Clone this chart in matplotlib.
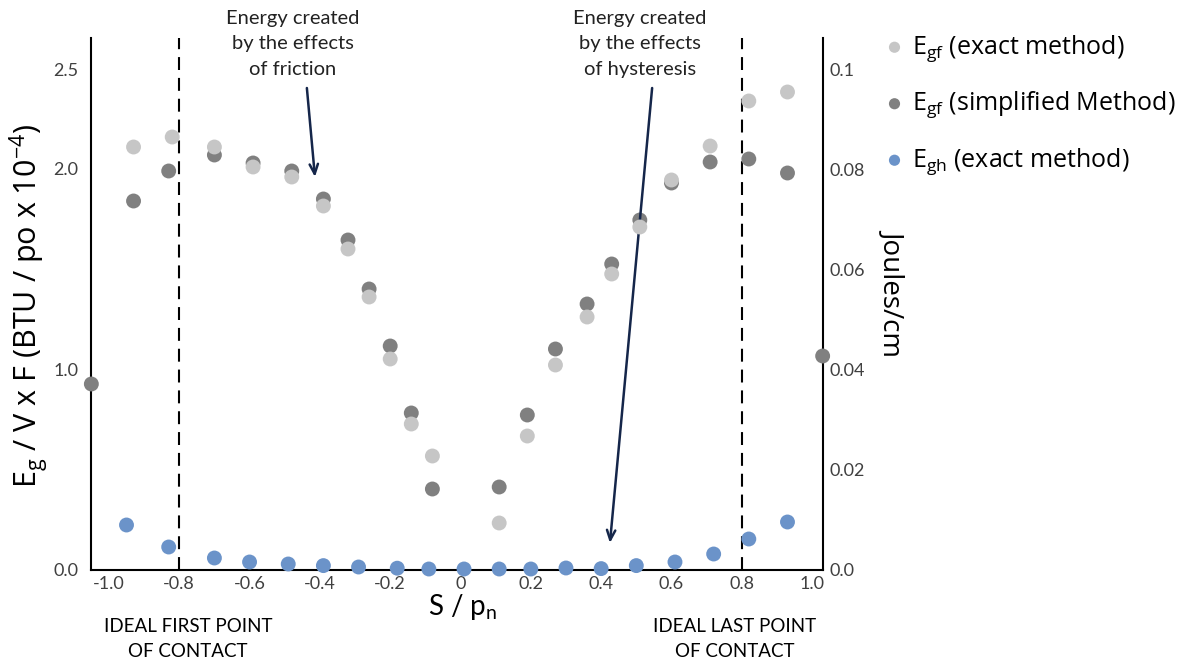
import matplotlib
matplotlib.use("Agg")
import matplotlib.pyplot as plt

plt.rcParams['font.family'] = ['Lato', 'DejaVu Sans']
plt.rcParams['mathtext.default'] = 'regular'

# ---------------- data ----------------
x_egf_exact = [-0.93, -0.82, -0.70, -0.59, -0.48, -0.39, -0.32, -0.26, -0.20, -0.14, -0.08,
               0.11, 0.19, 0.27, 0.36, 0.43, 0.51, 0.60, 0.71, 0.82, 0.93]
egf_exact = [2.11, 2.16, 2.11, 2.01, 1.96, 1.815, 1.60, 1.36, 1.05, 0.725, 0.565,
             0.23, 0.665, 1.02, 1.26, 1.475, 1.71, 1.945, 2.115, 2.34, 2.385]

x_egf_simpl = [-1.05, -0.93, -0.83, -0.70, -0.59, -0.48, -0.39, -0.32, -0.26, -0.20, -0.14, -0.08,
               0.11, 0.19, 0.27, 0.36, 0.43, 0.51, 0.60, 0.71, 0.82, 0.93, 1.03]
egf_simpl = [0.925, 1.84, 1.99, 2.07, 2.03, 1.99, 1.85, 1.645, 1.40, 1.115, 0.78, 0.40,
             0.41, 0.77, 1.10, 1.325, 1.525, 1.745, 1.93, 2.035, 2.05, 1.98, 1.065]

x_egh_exact = [-0.95, -0.83, -0.70, -0.60, -0.49, -0.39, -0.29, -0.18, -0.09, 0.01,
               0.11, 0.20, 0.30, 0.40, 0.50, 0.61, 0.72, 0.82, 0.93]
egh_exact = [0.22, 0.11, 0.055, 0.035, 0.025, 0.017, 0.01, 0.004, 0.0, 0.0,
             0.0, 0.0, 0.005, 0.002, 0.017, 0.035, 0.075, 0.15, 0.235]

xticks = [-1.0, -0.8, -0.6, -0.4, -0.2, 0.0, 0.2, 0.4, 0.6, 0.8, 1.0]
xtick_labels = ['-1.0', '-0.8', '-0.6', '-0.4', '-0.2', '0', '0.2', '0.4', '0.6', '0.8', '1.0']
yticks_left = [0.0, 1.0, 2.0, 2.5]
ytick_left_labels = ['0.0', '1.0', '2.0', '2.5']
yticks_right = [0.0, 0.02, 0.04, 0.06, 0.08, 0.1]
ytick_right_labels = ['0.0', '0.02', '0.04', '0.06', '0.08', '0.1']
contact_points = [-0.8, 0.8]

labels = [r'E$_{gf}$ (exact method)', r'E$_{gf}$ (simplified Method)', r'E$_{gh}$ (exact method)']
colors = ['#c6c6c6', '#808080', '#6b93c9']

# ---------------- figure ----------------
W, H = 1200, 663
fig = plt.figure(figsize=(W / 100, H / 100), dpi=100)
ax = fig.add_axes([91 / W, 93 / H, 732 / W, 532 / H])
ax2 = ax.twinx()
ax.set_zorder(ax2.get_zorder() + 1)
ax.patch.set_visible(False)

ax.set_xlim(-1.051, 1.031)
ax.set_ylim(-0.005, 2.655)
ax2.set_ylim(-0.0002, 0.1062)

for a in (ax, ax2):
    a.spines['top'].set_visible(False)
ax.spines['right'].set_visible(False)
ax2.spines['left'].set_visible(False)
ax2.spines['bottom'].set_visible(False)
for s in ('left', 'bottom'):
    ax.spines[s].set_linewidth(1.5)
    ax.spines[s].set_color('black')
ax2.spines['right'].set_linewidth(1.5)
ax2.spines['right'].set_color('black')

ms = 115
ax.scatter(x_egf_simpl, egf_simpl, s=ms, color=colors[1], edgecolors='none',
           zorder=3, clip_on=False, label=labels[1])
ax.scatter(x_egf_exact, egf_exact, s=ms, color=colors[0], edgecolors='none',
           zorder=4, clip_on=False, label=labels[0])
ax.scatter(x_egh_exact, egh_exact, s=ms, color=colors[2], edgecolors='none',
           zorder=4, clip_on=False, label=labels[2])

for xc in contact_points:
    ax.axvline(xc, color='black', lw=1.5, ls=(0, (6.2, 3.8)), zorder=2)

tick_color = '#404040'
ax.set_xticks(xticks)
ax.set_xticklabels(xtick_labels)
ax.set_yticks(yticks_left)
ax.set_yticklabels(ytick_left_labels)
ax2.set_yticks(yticks_right)
ax2.set_yticklabels(ytick_right_labels)
ax.tick_params(axis='x', length=0, pad=4, labelsize=13, labelcolor=tick_color)
ax.tick_params(axis='y', length=0, pad=9, labelsize=13, labelcolor=tick_color)
ax2.tick_params(axis='y', length=0, pad=5, labelsize=13, labelcolor=tick_color)

# axis labels
fig.text(29 / W, 1 - 306 / H, r'E$_{g}$ / V x F (BTU / po x 10$^{-4}$)', rotation=90,
         ha='center', va='center', fontsize=22, color='black', family=['Open Sans', 'DejaVu Sans'])
fig.text(893 / W, 1 - 292 / H, 'Joules/cm', rotation=270,
         ha='center', va='center', fontsize=20, color='black', family=['Open Sans', 'DejaVu Sans'])
fig.text(463 / W, 1 - 607 / H, r'S / p$_{n}$', ha='center', va='center',
         fontsize=20, color='black')
fig.text(188 / W, 1 - 639 / H, 'IDEAL FIRST POINT\nOF CONTACT', ha='center', va='center',
         fontsize=13.5, linespacing=1.55, color='black')
fig.text(735 / W, 1 - 639 / H, 'IDEAL LAST POINT\nOF CONTACT', ha='center', va='center',
         fontsize=13.5, linespacing=1.55, color='black')

# annotations
fig.text(293 / W, 1 - 44 / H, 'Energy created\nby the effects\nof friction', ha='center',
         va='center', fontsize=14.5, linespacing=1.6, color='#222222')
fig.text(640 / W, 1 - 44 / H, 'Energy created\nby the effects\nof hysteresis', ha='center',
         va='center', fontsize=14.5, linespacing=1.6, color='#222222')
arrow_kw = dict(arrowstyle='->,head_length=0.7,head_width=0.3', color='#15264a', lw=1.8,
                shrinkA=0, shrinkB=0)
ax.annotate('', xy=(-0.414, 1.96), xytext=(-0.437, 2.405), arrowprops=arrow_kw,
            annotation_clip=False)
ax.annotate('', xy=(0.425, 0.13), xytext=(0.545, 2.405), arrowprops=arrow_kw,
            annotation_clip=False)

# legend
h, l = ax.get_legend_handles_labels()
order = [1, 0, 2]
fig.legend([h[i] for i in order], [l[i] for i in order], loc='upper left',
           bbox_to_anchor=(882 / W, 1 - 33 / H), frameon=False,
           prop={'family': ['Open Sans', 'DejaVu Sans'], 'size': 18},
           handletextpad=0.2, labelspacing=1.02, handlelength=1.0, borderaxespad=0,
           borderpad=0, markerscale=0.75)

fig.savefig('out.png', dpi=100)
